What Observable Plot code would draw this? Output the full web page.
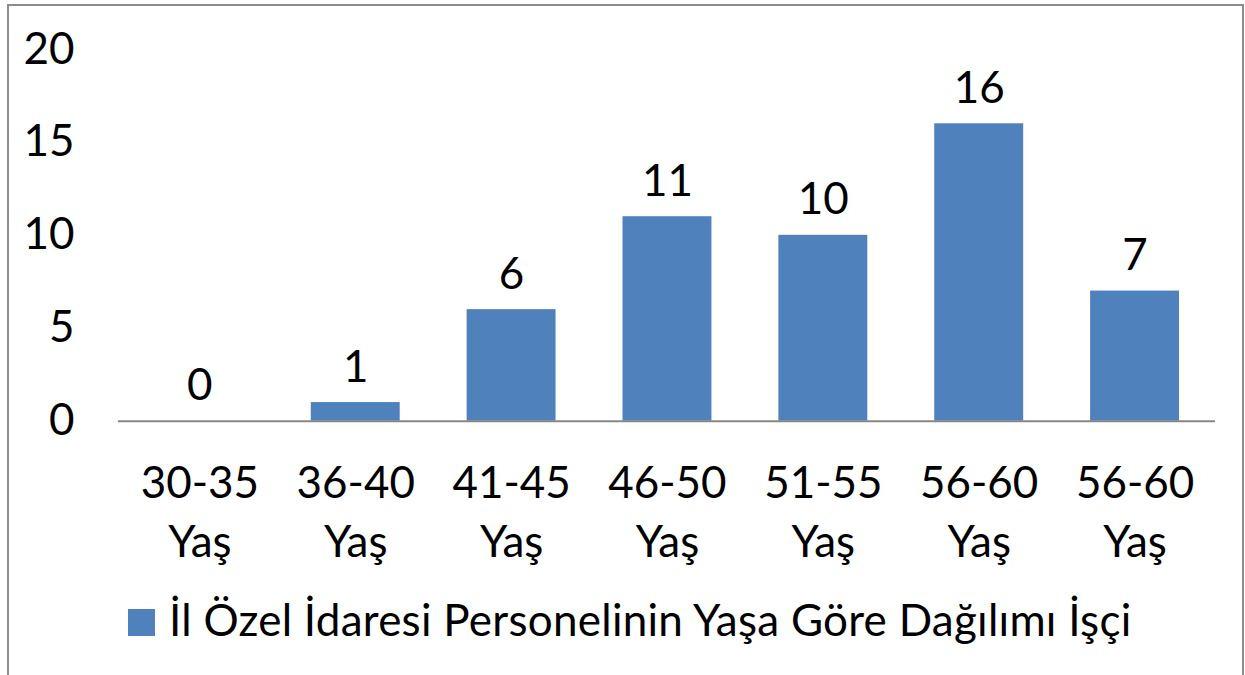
<!DOCTYPE html>
<html>
<head>
<meta charset="utf-8">
<script src="https://cdn.jsdelivr.net/npm/d3@7"></script>
<script src="https://cdn.jsdelivr.net/npm/@observablehq/plot@0.6"></script>
<style>
  html, body { margin: 0; padding: 0; background: #fff; overflow: hidden; }
  #frame { position: absolute; left: 7px; top: 4px; width: 1237px; height: 700px;
           border: 2px solid #8c8c8c; border-bottom: none; box-sizing: border-box; background: #fff; }
  #chart { position: absolute; left: -1px; top: -1px; }
  #legend { position: absolute; left: 119px; top: 587px; display: flex; align-items: center;
            font-family: Lato, "Open Sans", sans-serif; font-size: 44px; color: #000; white-space: nowrap;
            letter-spacing: 0.26px; }
  #legend .sw { width: 27px; height: 27px; background: #4F81BD; margin-right: 14px; margin-top: 6px; }
</style>
</head>
<body>
<div id="frame">
  <div id="chart"></div>
  <div id="legend"><div class="sw"></div><span id="legtext"></span></div>
</div>
<script>
const categories = ["30-35 Yaş", "36-40 Yaş", "41-45 Yaş", "46-50 Yaş", "51-55 Yaş", "56-60 Yaş", "56-60 Yaş "];
const tickLabels = ["30-35\nYaş", "36-40\nYaş", "41-45\nYaş", "46-50\nYaş", "51-55\nYaş", "56-60\nYaş", "56-60\nYaş"];
const values = [0, 1, 6, 11, 10, 16, 7];
const seriesName = "İl Özel İdaresi Personelinin Yaşa Göre Dağılımı İşçi";
const yTicks = [0, 5, 10, 15, 20];

const data = categories.map((c, i) => ({ cat: c, value: values[i], label: tickLabels[i] }));
const labelOf = new Map(data.map(d => [d.cat, d.label]));

const axisColor = "#868686";
const font = "Lato, 'Open Sans', sans-serif";

const plot = Plot.plot({
  width: 1235,
  height: 580,
  marginLeft: 110,
  marginRight: 27,
  marginTop: 44,
  marginBottom: 164,
  style: { fontFamily: font, fontSize: "44px", color: "#000", background: "transparent" },
  x: { domain: categories, paddingInner: 0.43, paddingOuter: 0.215, label: null },
  y: { domain: [0, 20], label: null },
  marks: [
    Plot.barY(data, { x: "cat", y: "value", fill: "#4F81BD" }),
    Plot.ruleY([0], { stroke: axisColor, strokeWidth: 2 }),
    Plot.ruleX([0], { x: () => 0, frameAnchor: "left", stroke: axisColor, strokeWidth: 2 }),
    Plot.axisY({ ticks: yTicks, tickSize: 0, tickPadding: 44, fontSize: 44, label: null }),
    Plot.axisX({ tickSize: 0, tickPadding: 34, fontSize: 44, lineHeight: 1.36, label: null,
                 tickFormat: d => labelOf.get(d) }),
    Plot.text(data, { x: "cat", y: "value", text: d => String(d.value), lineAnchor: "bottom", dy: -21, fontSize: 44, fill: "#000" })
  ]
});
document.getElementById("chart").appendChild(plot);
document.getElementById("legtext").textContent = seriesName;
</script>
</body>
</html>
